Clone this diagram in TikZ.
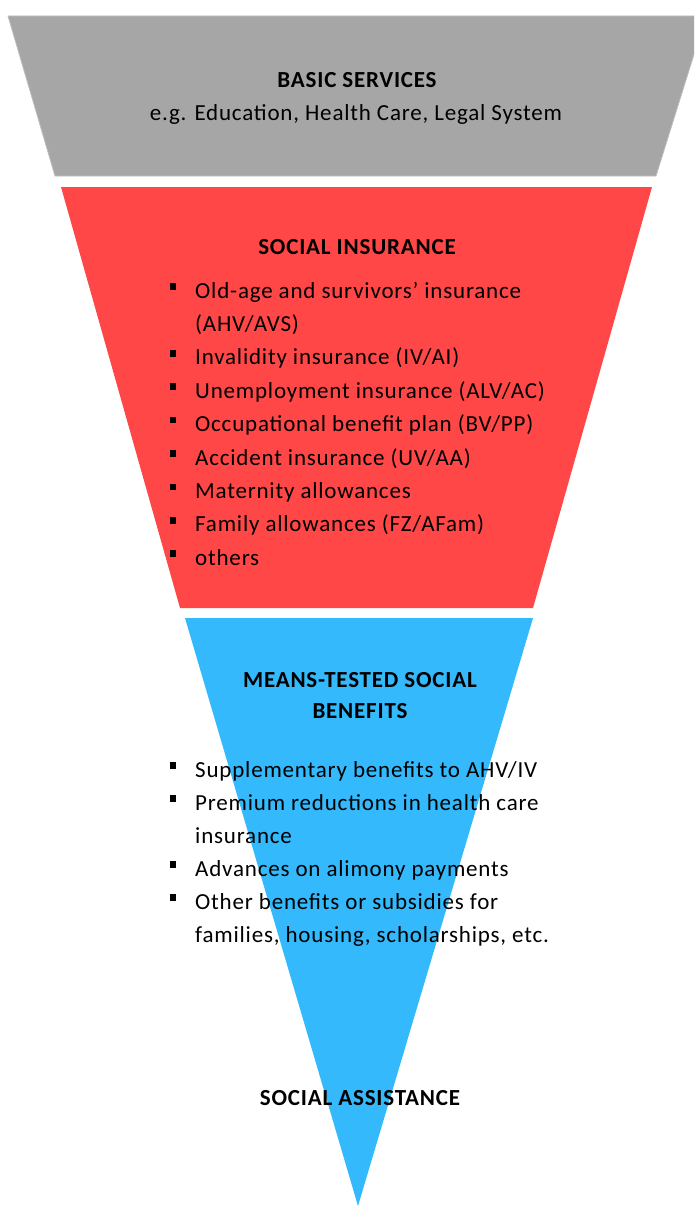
\documentclass[tikz,border=0pt]{standalone}
\usepackage{fontspec}
\setmainfont{Carlito}[LetterSpace=3.5]
\definecolor{basicgray}{HTML}{A6A6A6}
\definecolor{basicedge}{HTML}{BEBEBE}
\definecolor{insred}{HTML}{FF4747}
\definecolor{meansblue}{HTML}{33B9FC}
\begin{document}
\begin{tikzpicture}[x=1pt,y=-1pt,
  itemtext/.style={anchor=base west, inner sep=0pt, font=\fontsize{23}{33.4}\selectfont},
  headtext/.style={anchor=base, inner sep=0pt, font=\fontsize{23}{33.4}\selectfont\bfseries},
  subtext/.style={anchor=base, inner sep=0pt, font=\fontsize{23}{33.4}\selectfont},
  bulletmark/.style={fill=black, minimum size=6.5pt, inner sep=0pt, outer sep=0pt}]
\useasboundingbox (0,0) rectangle (694,1207);
\clip (0,0) rectangle (694,1207);

% layers of the funnel
\fill[basicgray, draw=basicedge, line width=0.8pt] (8,16) -- (706,16) -- (656,176) -- (55,176) -- cycle;
\fill[insred] (61,187) -- (652,187) -- (533,608) -- (180,608) -- cycle;
\fill[meansblue] (185,618) -- (533,618) -- (358,1206) -- cycle;

% basic services
\node[headtext] (basic) at (357,88) {BASIC SERVICES};
\node[subtext] (basicex) at (356,120.5) {e.g. Education, Health Care, Legal System};

% social insurance
\node[headtext] (social) at (357,254) {SOCIAL INSURANCE};
\foreach \txt [count=\i from 0] in {Old-age and survivors’ insurance, (AHV/AVS), Invalidity insurance (IV/AI), Unemployment insurance (ALV/AC), Occupational benefit plan (BV/PP), Accident insurance (UV/AA), Maternity allowances, Family allowances (FZ/AFam), others}{
  \node[itemtext] (si\i) at (195,298+33.4*\i) {\txt};
}
\foreach \i in {0,2,3,4,5,6,7,8}{
  \node[bulletmark] (sib\i) at (173,286.5+33.4*\i) {};
}

% means-tested social benefits
\node[headtext] (means1) at (360,687) {MEANS-TESTED SOCIAL};
\node[headtext] (means2) at (360,718) {BENEFITS};
\foreach \txt [count=\i from 0] in {Supplementary benefits to AHV/IV, Premium reductions in health care, insurance, Advances on alimony payments, Other benefits or subsidies for, {families, housing, scholarships, etc.}}{
  \node[itemtext] (mt\i) at (195,777+33*\i) {\txt};
}
\foreach \i in {0,1,3,4}{
  \node[bulletmark] (mtb\i) at (173,765.5+33*\i) {};
}

% social assistance
\node[headtext] (assist) at (360,1105) {SOCIAL ASSISTANCE};
\end{tikzpicture}
\end{document}
